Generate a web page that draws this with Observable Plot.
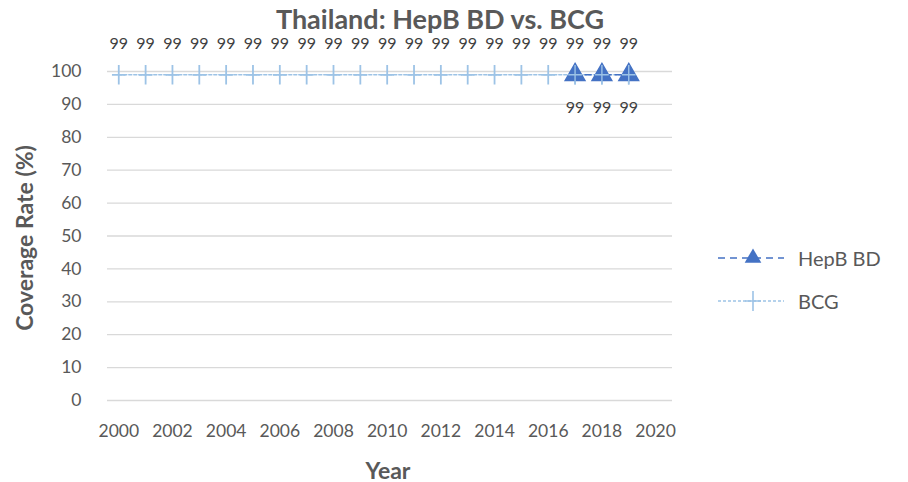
<!DOCTYPE html>
<html><head><meta charset="utf-8">
<script src="https://cdn.jsdelivr.net/npm/d3@7"></script>
<script src="https://cdn.jsdelivr.net/npm/@observablehq/plot@0.6"></script>
<style>
body{margin:0;background:#fff;font-family:Lato,"Open Sans",sans-serif;}
#wrap{position:relative;width:908px;height:482px;overflow:hidden;}
#chart{position:absolute;left:0;top:0;}
.t{position:absolute;color:#595959;font-weight:bold;white-space:nowrap;line-height:1;}
#title{left:440px;top:18px;font-size:27px;transform:translate(-50%,-50%);}
#ytitle{left:24px;top:238px;font-size:23px;transform:translate(-50%,-50%) rotate(-90deg);}
#xtitle{left:388px;top:470px;font-size:23px;transform:translate(-50%,-50%);}
#legend{position:absolute;left:716px;top:236px;}
.li{display:flex;align-items:center;height:43px;font-size:20px;color:#595959;}
.li svg{margin-right:12px;}
</style></head>
<body><div id="wrap"><div id="chart"></div>
<div class="t" id="title">Thailand: HepB BD vs. BCG</div>
<div class="t" id="ytitle">Coverage Rate (%)</div>
<div class="t" id="xtitle">Year</div>
<div id="legend"></div>
</div>
<script>
const bcgYears = [2000,2001,2002,2003,2004,2005,2006,2007,2008,2009,2010,2011,2012,2013,2014,2015,2016,2017,2018,2019];
const bcgValues = [99,99,99,99,99,99,99,99,99,99,99,99,99,99,99,99,99,99,99,99];
const hepbYears = [2017,2018,2019];
const hepbValues = [99,99,99];
const xTicks = [2000,2002,2004,2006,2008,2010,2012,2014,2016,2018,2020];
const yTicks = [0,10,20,30,40,50,60,70,80,90,100];

const bcg = bcgYears.map((y,i)=>({year:y,value:bcgValues[i]}));
const hepb = hepbYears.map((y,i)=>({year:y,value:hepbValues[i]}));

const plusSym = {draw(ctx,size){const r=Math.sqrt(size)/2; ctx.moveTo(-r*0.7,0);ctx.lineTo(r*0.7,0);ctx.moveTo(0,-r);ctx.lineTo(0,r);}};

const HEPB="#4472C4", BCG="#9DC3E6";

const plot = Plot.plot({
  width:908, height:482,
  marginTop:71, marginBottom:82, marginLeft:107, marginRight:236,
  style:{fontFamily:"Lato, 'Open Sans', sans-serif", fontSize:"17.5px", color:"#595959", background:"transparent"},
  x:{domain:[1999.58,2020.63], label:null},
  y:{domain:[0,100], label:null},
  marks:[
    Plot.ruleY(yTicks,{stroke:"#d9d9d9",strokeWidth:1.3}),
    Plot.axisX({ticks:xTicks, tickFormat:d=>String(d), tickSize:0, tickPadding:24, label:null, fill:"#595959"}),
    Plot.axisY({ticks:yTicks, tickSize:0, tickPadding:26, label:null, fill:"#595959"}),
    Plot.line(bcg,{x:"year",y:"value",stroke:BCG,strokeWidth:1.5,strokeDasharray:"3,2"}),
    Plot.dot(bcg,{x:"year",y:"value",symbol:plusSym,r:11,stroke:BCG,strokeWidth:1.8,fill:"none"}),
    Plot.line(hepb,{x:"year",y:"value",stroke:HEPB,strokeWidth:1.5,strokeDasharray:"6,4"}),
    Plot.dot(hepb,{x:"year",y:"value",symbol:"triangle",r:7.3,fill:HEPB,stroke:HEPB}),
    Plot.dot(hepb,{x:"year",y:"value",symbol:plusSym,r:11,stroke:BCG,strokeWidth:1.4,fill:"none"}),
    Plot.text(bcg,{x:"year",y:"value",text:d=>String(d.value),dy:-31,fill:"#404040",fontSize:16}),
    Plot.text(hepb,{x:"year",y:"value",text:d=>String(d.value),dy:33,fill:"#404040",fontSize:16})
  ]
});
document.getElementById("chart").appendChild(plot);

// legend
const leg = d3.select("#legend");
const items=[{name:"HepB BD",color:HEPB,dash:"7,5",sym:"tri"},{name:"BCG",color:BCG,dash:"3,2",sym:"plus"}];
items.forEach(it=>{
  const row=leg.append("div").attr("class","li");
  const s=row.append("svg").attr("width",70).attr("height",26);
  s.append("line").attr("x1",2).attr("x2",68).attr("y1",13).attr("y2",13).attr("stroke",it.color).attr("stroke-width",1.6).attr("stroke-dasharray",it.dash);
  if(it.sym==="tri") s.append("path").attr("d",d3.symbol(d3.symbolTriangle,120)()).attr("transform","translate(37,13)").attr("fill",it.color);
  else s.append("path").attr("d","M-8,0H8M0,-10V10").attr("transform","translate(37,13)").attr("stroke",it.color).attr("stroke-width",1.6);
  row.append("span").text(it.name);
});
</script></body></html>
